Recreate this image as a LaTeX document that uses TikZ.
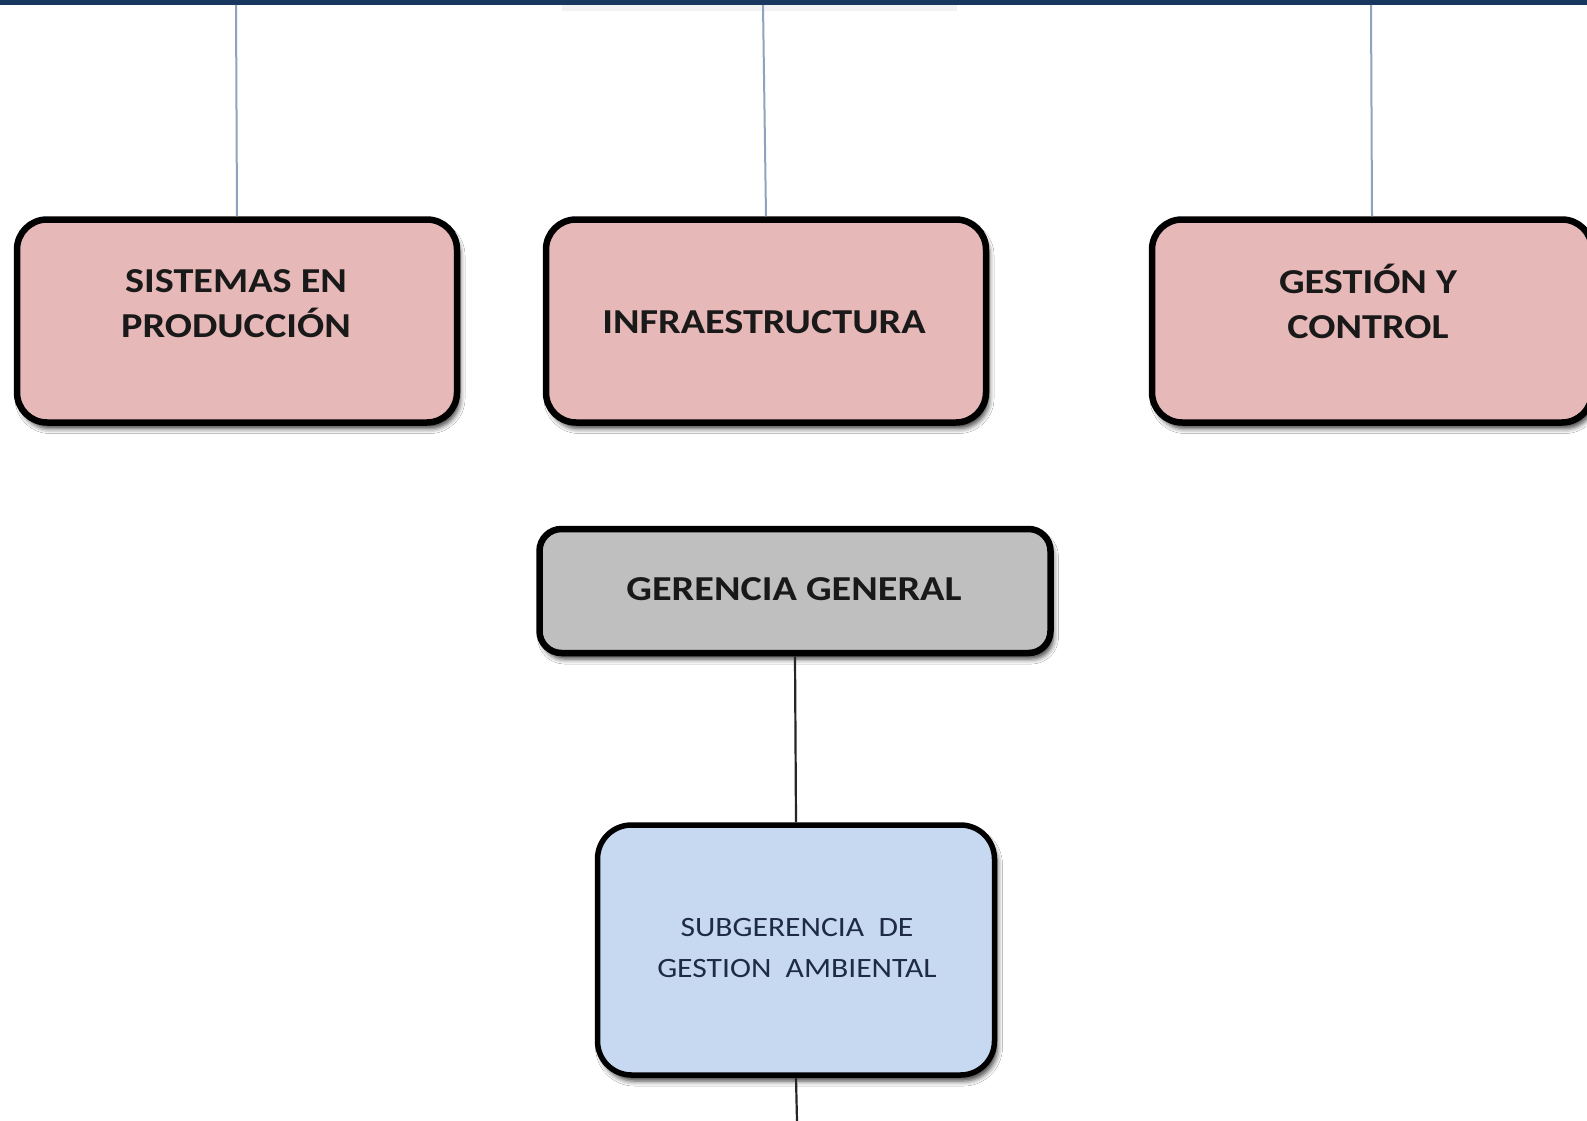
\documentclass[tikz,border=0pt]{standalone}
\usepackage{fontspec}
\setmainfont{Carlito}
\usetikzlibrary{shadows.blur}
\definecolor{topbar}{HTML}{17375E}
\definecolor{pinkfill}{HTML}{E6B8B7}
\definecolor{grayfill}{HTML}{BFBFBF}
\definecolor{bluefill}{HTML}{C6D9F1}
\definecolor{toplink}{HTML}{8FA3BF}
\definecolor{subtext}{HTML}{1F2A44}
\tikzset{
  unitbox/.style={draw=black, line width=6.5pt, rounded corners=30pt, inner sep=0pt,
    blur shadow={shadow xshift=3pt, shadow yshift=-6pt, shadow blur radius=5pt, shadow opacity=75}},
  pinkbox/.style={unitbox, fill=pinkfill, minimum width=440pt, minimum height=203pt},
  mainlabel/.style={font=\bfseries\fontsize{35}{45}\selectfont, align=center, text=black!90, inner sep=0pt, xscale=1.15},
  sublabel/.style={font=\fontsize{28}{41}\selectfont, align=center, text=subtext, inner sep=0pt, xscale=1.13},
  toplinkline/.style={draw=toplink, line width=2pt},
  darkline/.style={draw=black!85, line width=2.2pt},
}
\begin{document}
\begin{tikzpicture}[x=1pt,y=-1pt]
\useasboundingbox (0,0) rectangle (1587,1121);
\fill[white] (0,0) rectangle (1587,1121);
% faint shadow of a box above the page
\fill[black, opacity=0.05] (562,4) rectangle (957,11);
\fill[topbar] (0,0) rectangle (1587,5);

\coordinate (t1) at (236,5);
\coordinate (t2) at (763,5);
\coordinate (t3) at (1371,5);
\coordinate (bot) at (797,1121);

\node[pinkbox] (b1) at (237,321) {};
\node[pinkbox] (b2) at (766,321) {};
\node[pinkbox] (b3) at (1372,321) {};
\node[unitbox, fill=grayfill, rounded corners=22pt, minimum width=511pt, minimum height=124pt] (g) at (795,591) {};
\node[unitbox, fill=bluefill, line width=5.5pt, rounded corners=34pt, minimum width=397pt, minimum height=250pt] (s) at (796,950) {};

\node[mainlabel] (l1) at (236,304) {SISTEMAS EN\\PRODUCCIÓN};
\node[mainlabel] (l2) at (764,322) {INFRAESTRUCTURA};
\node[mainlabel] (l3) at (1368,301) {GESTIÓN Y\\CONTROL};
\node[mainlabel] (lg) at (794,589) {GERENCIA GENERAL};
\node[sublabel] (ls) at (797,948) {SUBGERENCIA\ \ DE\\GESTION\ \ AMBIENTAL};

\draw[toplinkline] (t1) -- (b1.north);
\draw[toplinkline] (t2) -- (b2.north);
\draw[toplinkline] (t3) -- (b3.north);
\draw[darkline] (g.south) -- (s.north);
\draw[darkline] (s.south) -- (bot);
\end{tikzpicture}
\end{document}
